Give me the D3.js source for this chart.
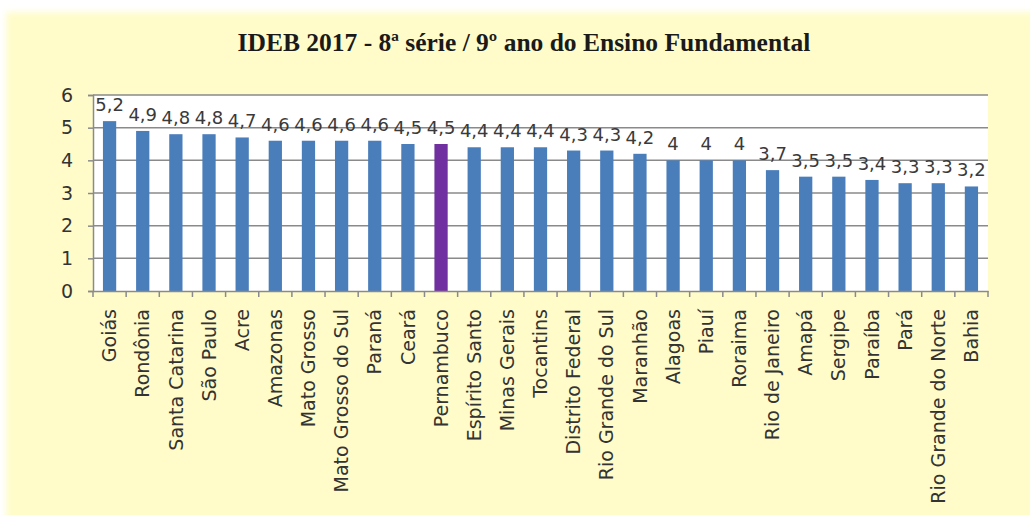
<!DOCTYPE html>
<html>
<head>
<meta charset="utf-8">
<script src="https://cdn.jsdelivr.net/npm/d3@7"></script>
<style>
  html, body { margin: 0; padding: 0; background: #ffffff; }
  svg { display: block; }
</style>
</head>
<body>
<svg id="chart" width="1030" height="515"></svg>
<script>
const chartTitle = "IDEB 2017 - 8ª série / 9º ano do Ensino Fundamental";
const states = ["Goiás", "Rondônia", "Santa Catarina", "São Paulo", "Acre", "Amazonas", "Mato Grosso",
  "Mato Grosso do Sul", "Paraná", "Ceará", "Pernambuco", "Espírito Santo", "Minas Gerais", "Tocantins",
  "Distrito Federal", "Rio Grande do Sul", "Maranhão", "Alagoas", "Piauí", "Roraima", "Rio de Janeiro",
  "Amapá", "Sergipe", "Paraíba", "Pará", "Rio Grande do Norte", "Bahia"];
const idebValues = [5.2, 4.9, 4.8, 4.8, 4.7, 4.6, 4.6, 4.6, 4.6, 4.5, 4.5, 4.4, 4.4, 4.4, 4.3, 4.3, 4.2,
  4.0, 4.0, 4.0, 3.7, 3.5, 3.5, 3.4, 3.3, 3.3, 3.2];
const highlighted = ["Pernambuco"];
const yTicks = [0, 1, 2, 3, 4, 5, 6];

const W = 1030, H = 515;
const plot = { left: 93, right: 988, top: 95, bottom: 291 };
const svg = d3.select("#chart");

// background
const defs = svg.append("defs");
defs.append("filter").attr("id", "soft").attr("x", "-5%").attr("y", "-5%").attr("width", "110%").attr("height", "110%")
  .append("feGaussianBlur").attr("stdDeviation", 3);
svg.append("rect").attr("width", W).attr("height", H).attr("fill", "#ffffff");
svg.append("rect").attr("x", 6).attr("y", 12).attr("width", W + 20).attr("height", H + 20)
  .attr("fill", "#fffcca").attr("filter", "url(#soft)");

// title
svg.append("text")
  .attr("x", 524).attr("y", 51)
  .attr("text-anchor", "middle")
  .attr("font-family", "'Liberation Serif', 'Times New Roman', serif")
  .attr("font-weight", "bold")
  .attr("font-size", 25.5)
  .attr("fill", "#1a1a1a")
  .text(chartTitle);

const x = d3.scaleBand().domain(states).range([plot.left, plot.right]).paddingInner(0.6).paddingOuter(0.3);
const y = d3.scaleLinear().domain([0, 6]).range([plot.bottom, plot.top]);

// plot area
svg.append("rect").attr("x", plot.left).attr("y", plot.top)
  .attr("width", plot.right - plot.left).attr("height", plot.bottom - plot.top)
  .attr("fill", "#ffffff");

// gridlines
svg.append("g").selectAll("line").data(yTicks.filter(d => d > 0)).join("line")
  .attr("x1", plot.left).attr("x2", plot.right)
  .attr("y1", d => y(d)).attr("y2", d => y(d))
  .attr("stroke", "#8a8a8a").attr("stroke-width", 1.5);

// bars
svg.append("g").selectAll("rect").data(states).join("rect")
  .attr("x", d => x(d))
  .attr("width", x.bandwidth())
  .attr("y", (d, i) => y(idebValues[i]))
  .attr("height", (d, i) => y(0) - y(idebValues[i]))
  .attr("fill", d => highlighted.includes(d) ? "#7030a0" : "#4a7ebb");

// data labels
const fmt = v => String(v).replace(".", ",");
svg.append("g").selectAll("text").data(states).join("text")
  .attr("x", d => x(d) + x.bandwidth() / 2)
  .attr("y", (d, i) => y(idebValues[i]) - 10)
  .attr("text-anchor", "middle")
  .attr("font-family", "'DejaVu Sans', sans-serif")
  .attr("font-size", 18)
  .attr("fill", "#3a3a3a")
  .text((d, i) => fmt(idebValues[i]));

// y axis
const yAxis = d3.axisLeft(y).tickValues(yTicks).tickSize(5).tickPadding(15).tickFormat(d3.format("d"));
const gy = svg.append("g").attr("transform", `translate(${plot.left},0)`).call(yAxis);
gy.select(".domain").attr("stroke", "#8a8a8a").attr("stroke-width", 1.5);
gy.selectAll(".tick line").attr("stroke", "#8a8a8a").attr("stroke-width", 1.5);
gy.selectAll(".tick text").attr("font-family", "'DejaVu Sans', sans-serif").attr("font-size", 19).attr("fill", "#333333");

// x axis
const xAxis = d3.axisBottom(x).tickSize(0).tickPadding(0);
const gx = svg.append("g").attr("transform", `translate(0,${plot.bottom})`).call(xAxis);
gx.select(".domain").attr("stroke", "#8a8a8a").attr("stroke-width", 1.5);
gx.selectAll(".tick text")
  .attr("font-family", "'DejaVu Sans', sans-serif")
  .attr("font-size", 19)
  .attr("fill", "#333333")
  .attr("text-anchor", "end")
  .attr("transform", "rotate(-90)")
  .attr("x", -18)
  .attr("y", 0)
  .attr("dy", "0.35em");
// category separator ticks
const seps = d3.range(states.length + 1).map(i => plot.left + i * (plot.right - plot.left) / states.length);
svg.append("g").selectAll("line").data(seps).join("line")
  .attr("x1", d => d).attr("x2", d => d)
  .attr("y1", plot.bottom).attr("y2", plot.bottom + 6)
  .attr("stroke", "#8a8a8a").attr("stroke-width", 1.5);
</script>
</body>
</html>
